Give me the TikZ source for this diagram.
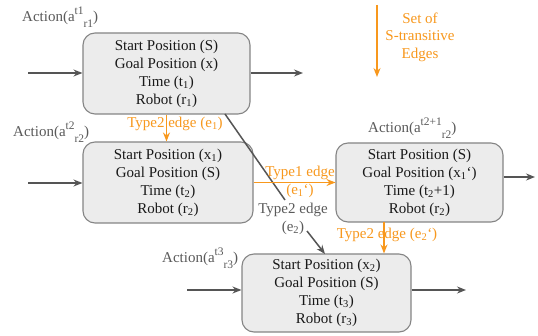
\documentclass[tikz,border=0pt]{standalone}
\usepackage{fontspec}
\setmainfont{Liberation Serif}
\usetikzlibrary{arrows.meta}
\definecolor{boxfill}{HTML}{ECECEC}
\definecolor{boxdraw}{HTML}{858585}
\definecolor{arrgray}{HTML}{555555}
\definecolor{lblgray}{HTML}{5A5A5A}
\definecolor{orng}{HTML}{F8981D}
\newcommand{\actlbl}[3]{Action(a\raisebox{0.5em}{\fontsize{11.5}{11.5}\selectfont #2}\raisebox{-0.4em}{\fontsize{11.5}{11.5}\selectfont #3})}
\begin{document}
\begin{tikzpicture}[x=1pt,y=-1pt,
  statebox/.style={draw=boxdraw,fill=boxfill,line width=1.1pt,rounded corners=12pt,align=center,
     font=\fontsize{15}{18}\selectfont,text=black!90,inner sep=0pt},
  garrow/.style={draw=arrgray,line width=1.5pt,-{Stealth[length=9pt,width=7pt,inset=3pt]}},
  oarrow/.style={draw=orng,line width=1.8pt,-{Stealth[length=9pt,width=7pt,inset=3pt]}},
  glbl/.style={text=lblgray,font=\fontsize{15}{18}\selectfont,inner sep=0pt},
  olbl/.style={text=orng,font=\fontsize{15}{18}\selectfont,inner sep=0pt,align=center}]
\useasboundingbox[fill=white] (0,0) rectangle (538,336);

% boxes
\node[statebox,minimum width=167pt,minimum height=81pt] (b1) at (166.5,73.5)
  {Start Position (S)\\Goal Position (x)\\Time (t\textsubscript{1})\\Robot (r\textsubscript{1})};
\node[statebox,minimum width=170pt,minimum height=81pt] (b2) at (168,182.5)
  {Start Position (x\textsubscript{1})\\Goal Position (S)\\Time (t\textsubscript{2})\\Robot (r\textsubscript{2})};
\node[statebox,minimum width=167pt,minimum height=79pt] (b3) at (419.5,182.5)
  {Start Position (S)\\Goal Position (x\textsubscript{1}`)\\Time (t\textsubscript{2}+1)\\Robot (r\textsubscript{2})};
\node[statebox,minimum width=169pt,minimum height=78pt] (b4) at (326.5,293)
  {Start Position (x\textsubscript{2})\\Goal Position (S)\\Time (t\textsubscript{3})\\Robot (r\textsubscript{3})};

% action labels
\node[glbl,anchor=base west] (a1) at (22,22) {\actlbl{}{t1}{r1}};
\node[glbl,anchor=base west] (a2) at (13,137) {\actlbl{}{t2}{r2}};
\node[glbl,anchor=base west] (a3) at (368,133) {\actlbl{}{t2+1}{r2}};
\node[glbl,anchor=base west] (a4) at (162,263) {\actlbl{}{t3}{r3}};

% free ends
\coordinate (i1) at (28,73);
\coordinate (o1) at (303,73);
\coordinate (i2) at (28,183);
\coordinate (o3) at (535,177);
\coordinate (i4) at (187,290);
\coordinate (o4) at (466,290);
\coordinate (d1) at (225,114);
\coordinate (d2) at (285,200);
\coordinate (d3) at (307,231);
\coordinate (d4) at (325,254);

% gray connectors
\draw[garrow] (i1) -- (i1 -| b1.west);
\draw[garrow] (o1 -| b1.east) -- (o1);
\draw[garrow] (i2) -- (i2 -| b2.west);
\draw[garrow] (o3 -| b3.east) -- (o3);
\draw[garrow] (i4) -- (i4 -| b4.west);
\draw[garrow] (o4 -| b4.east) -- (o4);
\draw[draw=arrgray,line width=1.5pt] (d1) -- (d2);
\draw[garrow] (d3) -- (d4);
\node[glbl,align=center] (l2) at (293,219) {Type2 edge\\(e\textsubscript{2})};

% orange connectors
\draw[oarrow] (b1.south) -- (b1.south |- b2.north);
\node[olbl] (l1) at (175,124) {Type2 edge (e\textsubscript{1})};
\draw[oarrow] (b2.east) -- (b3.west);
\node[olbl] (lt1) at (300,182) {Type1 edge\\(e\textsubscript{1}`)};
\coordinate (p3) at (384,222);
\draw[oarrow] (p3) -- (p3 |- b4.north);
\node[olbl] (l3) at (387,235) {Type2 edge (e\textsubscript{2}`)};

% set of S-transitive edges
\coordinate (s1) at (377,5);
\coordinate (s2) at (377,77);
\draw[oarrow] (s1) -- (s2);
\node[olbl,font=\fontsize{15}{17.5}\selectfont] (st) at (420,37) {Set of\\S-transitive\\Edges};
\end{tikzpicture}
\end{document}
